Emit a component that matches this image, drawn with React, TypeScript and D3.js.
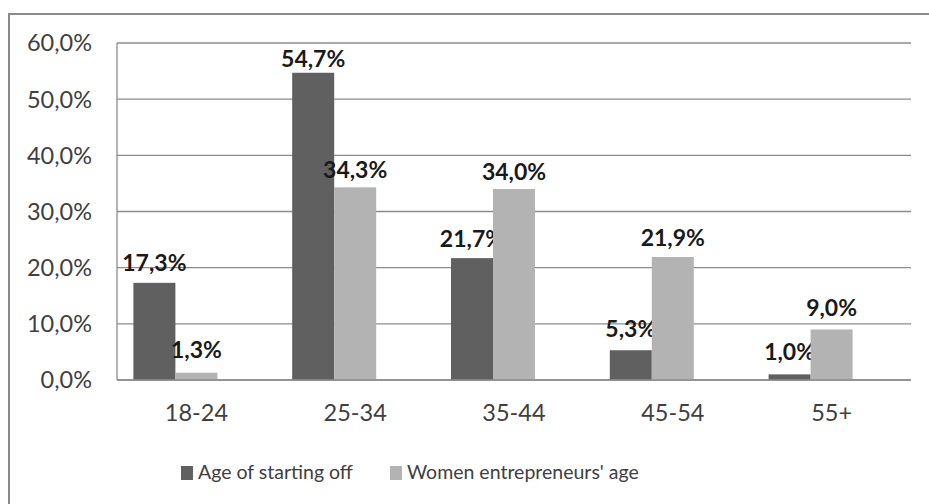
import React from "react";
import * as d3 from "d3";

const categories = ["18-24", "25-34", "35-44", "45-54", "55+"];
const startingAge = [17.3, 54.7, 21.7, 5.3, 1.0];
const currentAge = [1.3, 34.3, 34.0, 21.9, 9.0];
const seriesNames = ["Age of starting off", "Women entrepreneurs' age"];
const yTicks = [0, 10, 20, 30, 40, 50, 60];

const W = 929;
const H = 504;
const M = { left: 117, right: 911, top: 43, bottom: 380 };
const COLORS = ["#606060", "#b3b3b3"];
const FONT = "Lato, 'Open Sans', sans-serif";

const fmt = (v: number) => v.toFixed(1).replace(".", ",") + "%";

export default function App() {
  const x = d3.scaleBand<string>().domain(categories).range([M.left, M.right]).padding(0);
  // three slots per category (Excel layout with gap width), two used
  const inner = d3
    .scaleBand<number>()
    .domain([0, 1, 2])
    .range([0, x.bandwidth()])
    .paddingInner(0)
    .paddingOuter(0.39);
  const y = d3.scaleLinear().domain([0, 60]).range([M.bottom, M.top]);
  const labelY = d3.scaleLinear().domain([0, 60]).range([365.5, 38]);
  const series = [startingAge, currentAge];

  return (
    <svg
      width={W}
      height={H}
      style={{ position: "absolute", left: 0, top: 0, background: "#fff" }}
      fontFamily={FONT}
    >
      <rect x={0} y={0} width={W} height={H} fill="#fff" />
      <rect x={9} y={14} width={W + 20} height={H + 20} fill="#fff" stroke="#8a8a8a" strokeWidth={2} />
      {yTicks.map((t) => (
        <g key={t}>
          <line x1={M.left} x2={M.right} y1={y(t)} y2={y(t)} stroke="#8c8c8c" strokeWidth={1.3} />
          <text x={92} y={y(t)} dy="0.36em" textAnchor="end" fontSize={23.5} fill="#404040">
            {t.toFixed(1).replace(".", ",") + "%"}
          </text>
        </g>
      ))}
      <line x1={M.left} x2={M.left} y1={M.top} y2={M.bottom} stroke="#8c8c8c" strokeWidth={1.3} />
      {series.map((vals, si) =>
        vals.map((v, ci) => {
          const bx = (x(categories[ci]) as number) + (inner(si) as number);
          const bw = inner.bandwidth();
          return (
            <g key={`${si}-${ci}`}>
              <rect x={bx} y={y(v)} width={bw} height={M.bottom - y(v)} fill={COLORS[si]} />
              <text
                x={bx + bw / 2}
                y={labelY(v)}
                textAnchor="middle"
                fontSize={23}
                fontWeight="bold"
                fill="#1a1a1a"
              >
                {fmt(v)}
              </text>
            </g>
          );
        })
      )}
      <line x1={M.left} x2={M.right} y1={M.bottom} y2={M.bottom} stroke="#8c8c8c" strokeWidth={1.3} />
      {categories.map((c) => (
        <text
          key={c}
          x={(x(c) as number) + x.bandwidth() / 2}
          y={421}
          textAnchor="middle"
          fontSize={23.5}
          fill="#404040"
        >
          {c}
        </text>
      ))}
      {seriesNames.map((n, i) => {
        const lx = [181, 390][i];
        return (
          <g key={n}>
            <rect x={lx} y={466} width={12} height={14} fill={COLORS[i]} />
            <text x={lx + 17} y={479} fontSize={19.5} fill="#404040">
              {n}
            </text>
          </g>
        );
      })}
    </svg>
  );
}
